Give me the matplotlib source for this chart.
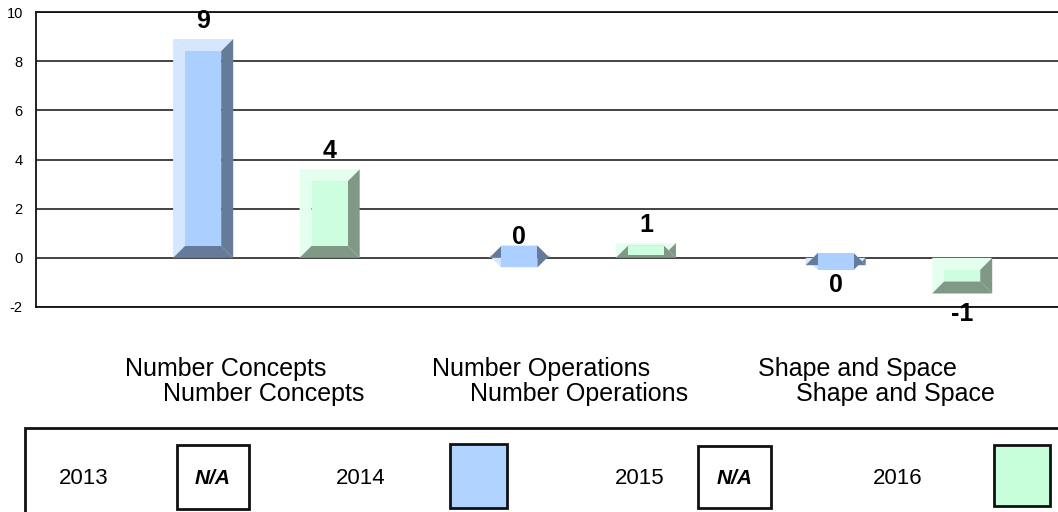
import matplotlib.pyplot as plt
from matplotlib.patches import Polygon, Rectangle
from matplotlib.transforms import blended_transform_factory

plt.rcParams["font.family"] = ["Liberation Sans", "DejaVu Sans"]
plt.rcParams["axes.unicode_minus"] = False

categories = ["Number Concepts", "Number Operations", "Shape and Space"]
years = ["2013", "2014", "2015", "2016"]
values_2014 = [8.9, 0.1, -0.3]
values_2016 = [3.6, 0.6, -1.45]
y_ticks = [-2, 0, 2, 4, 6, 8, 10]

face = {"2014": "#abcffe", "2016": "#ccfedf"}
light = {"2014": "#d5e7ff", "2016": "#e5ffef"}
dark = {"2014": "#667b99", "2016": "#7f9986"}
legend_face = {"2014": "#b0d4ff", "2016": "#c6ffda"}

W, H = 1058, 512
SLOT = 0.2
BAR_W = 0.19
BEVEL_PX = 12


def fx(px):
    return px / W


def fy(py):
    return 1 - py / H


def draw_bevel_bar(ax, x, value, year, bx, by):
    x0, x1 = x - BAR_W / 2, x + BAR_W / 2
    top, bot = max(value, 0), min(value, 0)
    shapes = [
        ([(x0, top), (x1, top), (x1 - bx, top - by), (x0 + bx, top - by)], light[year]),
        ([(x0, top), (x0 + bx, top - by), (x0 + bx, bot + by), (x0, bot)], light[year]),
        ([(x1, top), (x1, bot), (x1 - bx, bot + by), (x1 - bx, top - by)], dark[year]),
        ([(x0, bot), (x1, bot), (x1 - bx, bot + by), (x0 + bx, bot + by)], dark[year]),
        ([(x0 + bx, bot + by), (x1 - bx, bot + by), (x1 - bx, top - by), (x0 + bx, top - by)], face[year]),
    ]
    for pts, color in shapes:
        ax.add_patch(Polygon(pts, closed=True, facecolor=color, edgecolor="none", zorder=3))

    offset = 13 if value >= 0 else -14.5
    ax.annotate(f"{round(value):d}", (x, value), xytext=(0, offset), textcoords="offset points",
                ha="center", va="center", fontsize=18, fontweight="bold", zorder=5,
                annotation_clip=False)


def draw_legend(fig):
    fig.add_artist(Rectangle((fx(25), fy(530)), fx(1100), 102 / H, facecolor="none",
                             edgecolor="#111111", lw=2, transform=fig.transFigure, clip_on=False))
    # text centre, box left, box right, box top, box bottom
    layout = [(84, 177, 249, 445, 509), (361, 450, 507, 444, 508),
              (640, 698, 771, 446, 508), (898, 994, 1050, 445, 506)]
    for year, (tx, bl, br, bt, bb) in zip(years, layout):
        fig.text(fx(tx), fy(479), year, ha="center", va="center", fontsize=16)
        color = legend_face.get(year, "white")
        fig.add_artist(Rectangle((fx(bl), fy(bb)), (br - bl) / W, (bb - bt) / H, facecolor=color,
                                 edgecolor="#111111", lw=2, transform=fig.transFigure))
        if year not in legend_face:
            fig.text(fx((bl + br) / 2), fy(479), "N/A", ha="center", va="center", fontsize=15,
                     fontweight="bold", fontstyle="italic")


fig = plt.figure(figsize=(W / 100, H / 100), dpi=100)
ax = fig.add_axes([fx(36), fy(307), (1067 - 36) / W, 295 / H])
ax.set_xlim(-0.6285, 2.6315)
ax.set_ylim(-2, 10)

bx = BEVEL_PX * (ax.get_xlim()[1] - ax.get_xlim()[0]) / ax.bbox.width
by = BEVEL_PX * (ax.get_ylim()[1] - ax.get_ylim()[0]) / ax.bbox.height

for i in range(len(categories)):
    draw_bevel_bar(ax, i - 0.5 * SLOT, values_2014[i], "2014", bx, by)
    draw_bevel_bar(ax, i + 1.5 * SLOT, values_2016[i], "2016", bx, by)

ax.set_yticks(y_ticks)
ax.set_yticklabels([str(t) for t in y_ticks])
ax.set_xticks([])
ax.grid(axis="y", color="#111111", lw=1.1)
ax.set_axisbelow(True)
ax.tick_params(axis="y", length=0, pad=9.5, labelsize=10.5)
for side in ["left", "top", "bottom"]:
    ax.spines[side].set_color("#111111")
    ax.spines[side].set_linewidth(1.3)
ax.spines["right"].set_visible(False)

# category names are printed twice, staggered
trans = blended_transform_factory(ax.transData, fig.transFigure)
for i, name in enumerate(categories):
    ax.text(i - 0.03, fy(369), name, transform=trans, ha="center", va="center", fontsize=18)
    ax.text(i + 0.09, fy(394), name, transform=trans, ha="center", va="center", fontsize=18)

draw_legend(fig)

fig.savefig("out.png", dpi=100)
